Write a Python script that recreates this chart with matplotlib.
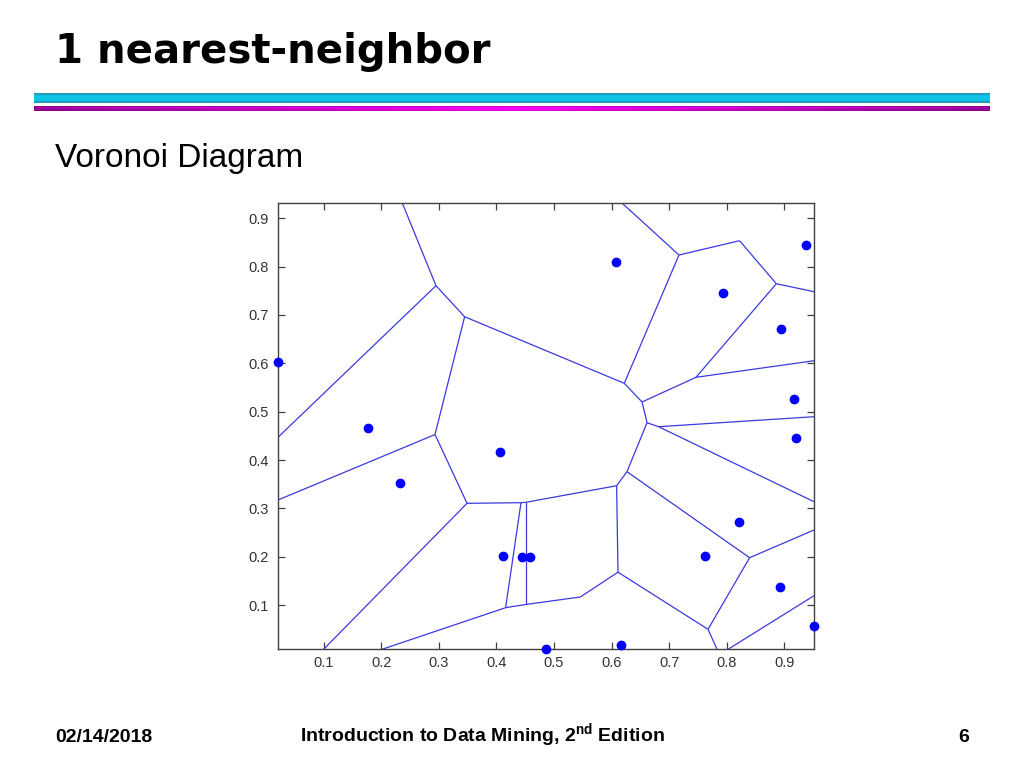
import numpy as np
import matplotlib
matplotlib.use("Agg")
import matplotlib.pyplot as plt
from matplotlib.collections import LineCollection

# ---------------- data ----------------
point_x = [0.0214, 0.177, 0.233, 0.4068, 0.4114, 0.445, 0.4589, 0.486, 0.617,
           0.608, 0.7927, 0.9368, 0.894, 0.917, 0.921, 0.822, 0.763, 0.8917, 0.9514]
point_y = [0.603, 0.4656, 0.353, 0.417, 0.2014, 0.200, 0.200, 0.009, 0.0173,
           0.810, 0.746, 0.845, 0.6704, 0.5256, 0.445, 0.2717, 0.202, 0.138, 0.0566]

# Voronoi vertices (data space)
vertex_x = [0.2951, 0.3448, 0.2934, 0.3490, 0.4427, 0.4510, 0.4160, 0.4510,
            0.5457, 0.6111, 0.6087, 0.6267, 0.6615, 0.6816, 0.6528, 0.6220,
            0.7465, 0.8860, 0.8222, 0.7170, 0.8396, 0.7674,
            0.2366, 0.6180, 0.0208, 0.0208, 0.1000, 0.2014, 0.7830, 0.8021,
            0.9514, 0.9514, 0.9514, 0.9514, 0.9514, 0.9514]
vertex_y = [0.7606, 0.6964, 0.4527, 0.3104, 0.3117, 0.3125, 0.0945, 0.1011,
            0.1166, 0.1679, 0.3468, 0.3758, 0.4772, 0.4689, 0.5200, 0.5587,
            0.5711, 0.7647, 0.8537, 0.8241, 0.1979, 0.0498,
            0.9317, 0.9317, 0.4470, 0.3173, 0.0084, 0.0084, 0.0084, 0.0084,
            0.2552, 0.1193, 0.3137, 0.4896, 0.6054, 0.7482]
edge_start = [22, 0, 0, 1, 1, 2, 2, 3, 3, 4, 5, 4, 5, 6, 6, 7, 8, 9, 10, 11,
              11, 9, 21, 20, 20, 29, 12, 13, 13, 12, 14, 14, 16, 16, 17, 17, 18, 19, 19]
edge_end = [0, 24, 1, 15, 2, 25, 3, 26, 4, 5, 10, 6, 7, 7, 27, 8, 9, 10, 11, 12,
            20, 21, 28, 21, 30, 31, 13, 32, 33, 14, 15, 16, 34, 17, 35, 18, 19, 15, 23]

x_ticks = [0.1, 0.2, 0.3, 0.4, 0.5, 0.6, 0.7, 0.8, 0.9]
y_ticks = [0.1, 0.2, 0.3, 0.4, 0.5, 0.6, 0.7, 0.8, 0.9]
x_limits = (0.0208, 0.9514)
y_limits = (0.0084, 0.9317)

title_text = "1 nearest-neighbor"
subtitle_text = "Voronoi Diagram"
footer_left = "02/14/2018"
footer_mid = "Introduction to Data Mining, 2$^{\\mathrm{nd}}$ Edition"
footer_right = "6"

# ---------------- figure ----------------
plt.rcParams["mathtext.fontset"] = "custom"
plt.rcParams["mathtext.rm"] = "Liberation Sans:bold"
plt.rcParams["mathtext.bf"] = "Liberation Sans:bold"

W, H = 1024, 768
fig = plt.figure(figsize=(W / 100, H / 100), dpi=100)
fig.patch.set_facecolor("white")

def fx(px):
    return px / W

def fy(py):
    return 1 - py / H

# title
fig.text(fx(55), fy(63), title_text, fontsize=29, fontweight="bold",
         family="DejaVu Sans", color="black", va="baseline", ha="left")

# decorative header bars (gradients)
bar1 = fig.add_axes([fx(34), fy(102.7), fx(990 - 34), (102.7 - 92.7) / H])
t = np.linspace(0, 1, 20)
prof = 1 - np.abs(t - 0.5) * 2  # 0 at edges, 1 centre
c_edge = np.array([0.15, 0.58, 0.68])
c_mid = np.array([0.05, 0.78, 0.92])
col = c_edge[None, :] + (c_mid - c_edge)[None, :] * np.clip(prof * 1.6, 0, 1)[:, None]
img1 = np.repeat(col[:, None, :], 10, axis=1)
bar1.imshow(img1, aspect="auto", interpolation="bilinear")
bar1.axis("off")

bar2 = fig.add_axes([fx(34), fy(110.7), fx(990 - 34), (110.7 - 106) / H])
s = np.linspace(0, 1, 200)
hp = 1 - np.abs(s - 0.5) * 2
m_end = np.array([0.62, 0.0, 0.62])
m_mid = np.array([1.0, 0.0, 1.0])
rowcol = m_end[None, :] + (m_mid - m_end)[None, :] * hp[:, None]
img2 = np.repeat(rowcol[None, :, :], 6, axis=0)
vshade = np.array([0.85, 0.95, 1.0, 1.0, 0.95, 0.85])[:, None, None]
img2 = np.clip(img2 * vshade, 0, 1)
bar2.imshow(img2, aspect="auto", interpolation="bilinear")
bar2.axis("off")

# subtitle
fig.text(fx(55), fy(167), subtitle_text, fontsize=24, family="Liberation Sans",
         color="black", va="baseline", ha="left")

# ---------------- chart ----------------
ax = fig.add_axes([fx(278), fy(649.3), fx(814 - 278), (649.3 - 203) / H])
segs = [[(vertex_x[a], vertex_y[a]), (vertex_x[b], vertex_y[b])]
        for a, b in zip(edge_start, edge_end)]
lc = LineCollection(segs, colors="#3a3ae0", linewidths=0.9)
ax.add_collection(lc)
ax.plot(point_x, point_y, "o", color="#0000ff", markersize=6, clip_on=False, zorder=5)

ax.set_xlim(*x_limits)
ax.set_ylim(*y_limits)
ax.set_xticks(x_ticks)
ax.set_yticks(y_ticks)
ax.set_xticklabels([f"{v:.1f}" for v in x_ticks])
ax.set_yticklabels([f"{v:.1f}" for v in y_ticks])
ax.tick_params(direction="in", top=True, right=True, length=5, width=0.9,
               colors="#404040", labelsize=10.5, pad=5)
ax.tick_params(axis="y", pad=7)
for lab in ax.get_xticklabels() + ax.get_yticklabels():
    lab.set_family("Liberation Sans")
    lab.set_color("#333333")
for sp in ax.spines.values():
    sp.set_color("#404040")
    sp.set_linewidth(1.0)

# ---------------- footer ----------------
fig.text(fx(55), fy(742), footer_left, fontsize=14, fontweight="bold",
         family="Liberation Sans", va="baseline", ha="left")
fig.text(fx(300), fy(742), footer_mid, fontsize=14, fontweight="bold",
         family="Liberation Sans", va="baseline", ha="left")
fig.text(fx(969), fy(742), footer_right, fontsize=14, fontweight="bold",
         family="Liberation Sans", va="baseline", ha="right")

fig.savefig("out.png", dpi=100, facecolor="white")
